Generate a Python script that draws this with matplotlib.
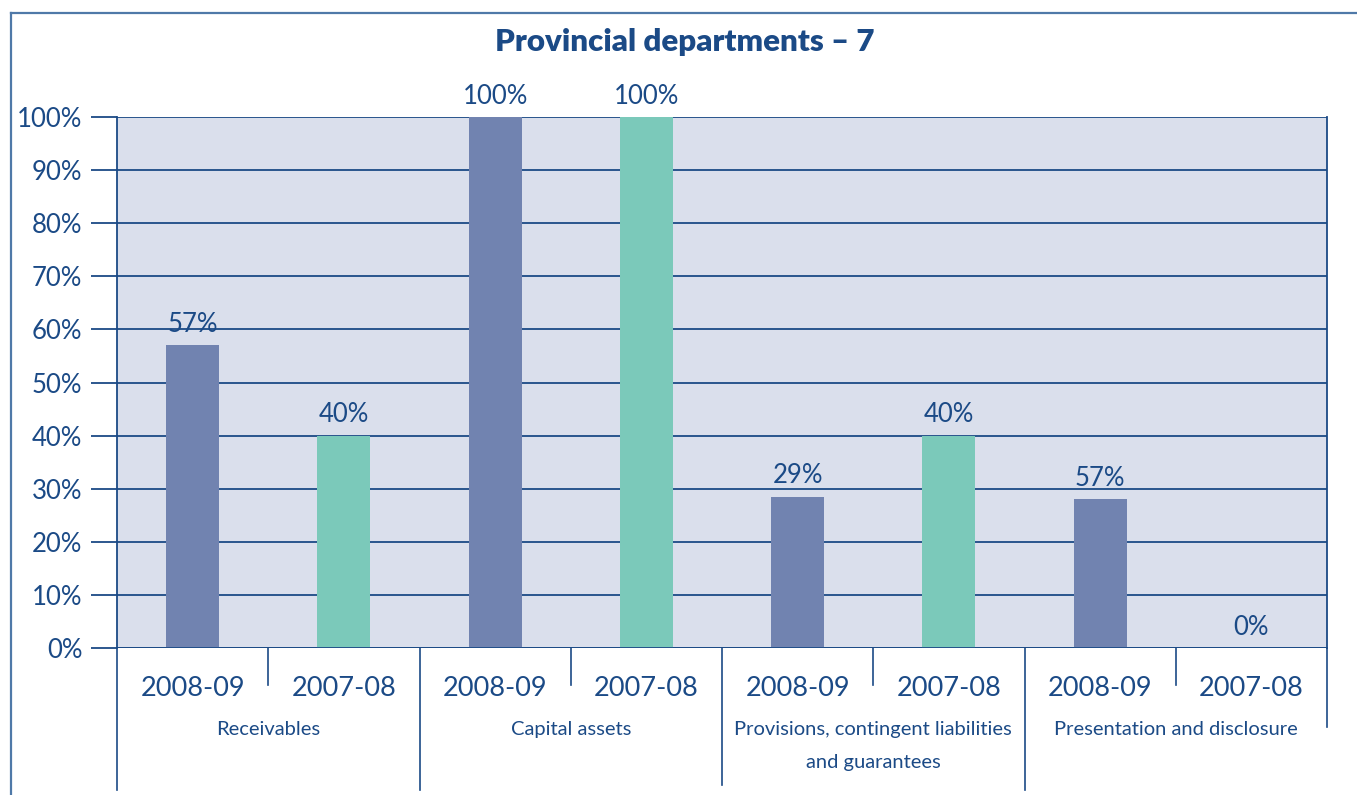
import numpy as np
import matplotlib
matplotlib.use('Agg')
import matplotlib.pyplot as plt

# Chart data
categories = ['Receivables', 'Capital assets',
              'Provisions, contingent liabilities\nand guarantees',
              'Presentation and disclosure']
years = ['2008-09', '2007-08']
values_0809 = [57, 100, 28.5, 28]
values_0708 = [40, 100, 40, 0]
labels_0809 = ['57%', '100%', '29%', '57%']
labels_0708 = ['40%', '100%', '40%', '0%']
yticks = [0, 10, 20, 30, 40, 50, 60, 70, 80, 90, 100]

navy = '#1b4a86'
frame_col = '#4f79a8'
col_0809 = '#7183b0'
col_0708 = '#7bc9ba'
bg = '#dadfec'

plt.rcParams['font.family'] = ['Lato', 'DejaVu Sans']

fig = plt.figure(figsize=(13.57, 7.95), dpi=100)
ax = fig.add_axes([117 / 1357, 1 - 648 / 795, 1210 / 1357, 531 / 795])
ax.set_facecolor(bg)

n = len(categories)
pos_a = np.arange(n) * 2 + 0.5
pos_b = np.arange(n) * 2 + 1.5
bw = 0.35
ax.bar(pos_a, values_0809, width=bw, color=col_0809, zorder=2)
ax.bar(pos_b, values_0708, width=bw, color=col_0708, zorder=2)

for x, v, lab in zip(pos_a, values_0809, labels_0809):
    ax.annotate(lab, (x, v), xytext=(0, 6), textcoords='offset points',
                ha='center', va='bottom', fontsize=18.5, color=navy)
for x, v, lab in zip(pos_b, values_0708, labels_0708):
    ax.annotate(lab, (x, v), xytext=(0, 6), textcoords='offset points',
                ha='center', va='bottom', fontsize=18.5, color=navy)

ax.set_xlim(0, 2 * n)
ax.set_ylim(0, 100)
ax.set_yticks(yticks)
ax.set_yticklabels([f'{t}%' for t in yticks])
ax.yaxis.grid(True, color=navy, linewidth=1.3)
ax.set_axisbelow(True)
ax.tick_params(axis='y', length=19, width=1.3, color=navy, pad=6,
               labelsize=18.5, labelcolor=navy)

ticks_x = np.sort(np.concatenate([pos_a, pos_b]))
ax.set_xticks(ticks_x)
ax.set_xticklabels(years * n)
ax.tick_params(axis='x', length=0, pad=20, labelsize=19.5, labelcolor=navy)

for s in ['top', 'bottom']:
    ax.spines[s].set_visible(False)
for s in ['left', 'right']:
    ax.spines[s].set_color(navy)
    ax.spines[s].set_linewidth(1.3)
ax.axhline(0, color=navy, lw=1.3, zorder=3)

# separators below the axis
tr = ax.get_xaxis_transform()
for i in range(n):
    ax.plot([2 * i + 1, 2 * i + 1], [0, -0.07], color=navy, lw=1.2,
            transform=tr, clip_on=False)
for i, y0 in zip(range(n + 1), [-0.267, -0.267, -0.258, -0.267, -0.149]):
    ax.plot([2 * i, 2 * i], [0, y0], color=navy, lw=1.2,
            transform=tr, clip_on=False)

for i, cat in enumerate(categories):
    ax.text(2 * i + 1, -0.138, cat, ha='center', va='top', color=navy,
            fontsize=14.5, linespacing=2.1, transform=tr)

fig.text(685 / 1357, 1 - 42 / 795, 'Provincial departments \u2013 7', ha='center',
         va='center', fontsize=22.5, fontweight='heavy', color=navy)

# outer frame
fig.add_artist(plt.Line2D([11 / 1357, 1], [1 - 13 / 795, 1 - 13 / 795],
                          color=frame_col, lw=1.6, transform=fig.transFigure))
fig.add_artist(plt.Line2D([11 / 1357, 11 / 1357], [0, 1 - 13 / 795],
                          color=frame_col, lw=1.6, transform=fig.transFigure))

fig.savefig('out.png', dpi=100)
